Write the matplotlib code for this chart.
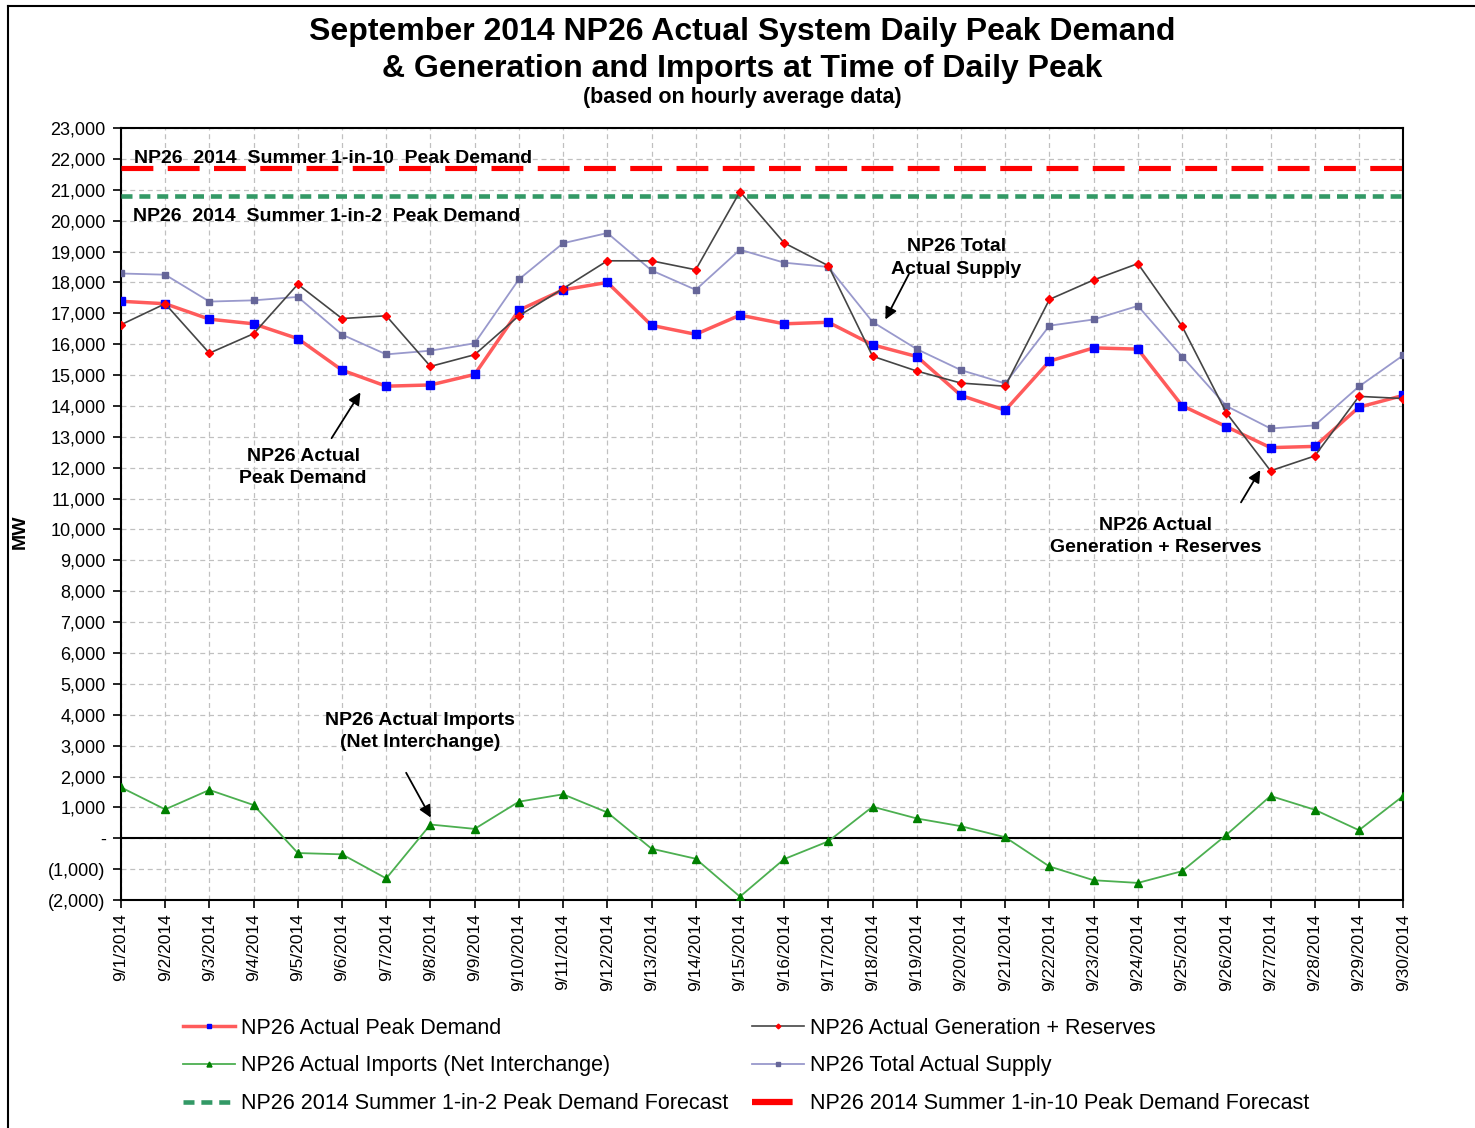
import numpy as np
import matplotlib
matplotlib.use("Agg")
import matplotlib.pyplot as plt
from matplotlib.ticker import FuncFormatter, MultipleLocator
from matplotlib.lines import Line2D

plt.rcParams['font.family'] = ['Liberation Sans', 'DejaVu Sans']

# data (MW)
dias = ["9/%d/2014" % d for d in range(1, 31)]

peak_demand = [17390, 17310, 16810, 16660, 16180, 15160, 14640, 14680, 15020, 17100,
               17760, 18000, 16610, 16320, 16940, 16660, 16710, 15980, 15600, 14340,
               13860, 15450, 15880, 15840, 14010, 13330, 12650, 12690, 13960, 14340]

gen_reserves = [16630, 17310, 15710, 16340, 17940, 16830, 16920, 15280, 15660, 16920,
                17800, 18700, 18700, 18410, 20940, 19280, 18540, 15610, 15130, 14740,
                14640, 17450, 18080, 18610, 16580, 13780, 11900, 12380, 14310, 14240]

imports = [1650, 935, 1565, 1076, -478, -520, -1300, 445, 304, 1185,
           1424, 837, -337, -663, -1890, -674, -98, 1022, 641, 391,
           33, -913, -1359, -1446, -1065, 109, 1370, 924, 261, 1370]

total_supply = [18290, 18250, 17380, 17420, 17530, 16310, 15670, 15790, 16030, 18100,
                19270, 19600, 18390, 17760, 19060, 18640, 18500, 16720, 15840, 15160,
                14730, 16600, 16800, 17240, 15600, 14000, 13270, 13370, 14630, 15640]

forecast_1in2 = 20800
forecast_1in10 = 21700

x = np.arange(len(dias))

fig = plt.figure(figsize=(14.75, 11.28), dpi=100)
ax = fig.add_axes([0.082, 0.2021, 0.8693, 0.6844])

# forecast lines
l10, = ax.plot([x[0], x[-1]], [forecast_1in10] * 2, color="#FF0000", lw=3.7,
               dashes=(6.2, 2.8), solid_capstyle="butt", zorder=3)
l2, = ax.plot([x[0], x[-1]], [forecast_1in2] * 2, color="#339966", lw=3.3,
              dashes=(2.4, 1.5), zorder=3)

ax.axhline(0, color="black", lw=1.5, zorder=2)

lpeak, = ax.plot(x, peak_demand, color="#FF5B5B", lw=2.5, marker="s", ms=5.5,
                 mfc="#0000FF", mec="#0000FF", zorder=5)
lgen, = ax.plot(x, gen_reserves, color="#454545", lw=1.2, marker="D", ms=4,
                mfc="#FF0000", mec="#FF0000", zorder=6)
limp, = ax.plot(x, imports, color="#4CAF50", lw=1.3, marker="^", ms=6,
                mfc="#008000", mec="#008000", zorder=5)
lsup, = ax.plot(x, total_supply, color="#9999CC", lw=1.3, marker="s", ms=5,
                mfc="#666699", mec="#666699", zorder=4)

ax.set_xlim(0, 29)
ax.set_ylim(-2000, 23000)
ax.yaxis.set_major_locator(MultipleLocator(1000))


def fmt(v, pos):
    if abs(v) < 1:
        return "-"
    if v < 0:
        return "({:,.0f})".format(-v)
    return "{:,.0f}".format(v)


ax.yaxis.set_major_formatter(FuncFormatter(fmt))
ax.set_xticks(x)
ax.set_xticklabels(dias, rotation=90, fontsize=12.5)
ax.tick_params(axis="y", labelsize=13, length=6, width=1.2, pad=5)
ax.tick_params(axis="x", length=6, width=1.2)
ax.grid(True, color="#C0C0C0", ls=(0, (4, 3)), lw=0.9)
ax.set_axisbelow(True)
for s in ax.spines.values():
    s.set_linewidth(1.5)

ax.set_ylabel("MW", fontsize=14, fontweight="bold")
ax.yaxis.set_label_coords(-0.072, 0.477)

# titles
fig.text(0.503, 0.972, "September 2014 NP26 Actual System Daily Peak Demand",
         ha="center", va="center", fontsize=23, fontweight="bold")
fig.text(0.503, 0.939, "& Generation and Imports at Time of Daily Peak",
         ha="center", va="center", fontsize=23, fontweight="bold")
fig.text(0.503, 0.914, "(based on hourly average data)",
         ha="center", va="center", fontsize=15.5, fontweight="bold")

# labels on chart
bold = dict(fontsize=14, fontweight="bold")
ax.text(0.3, 22000, "NP26  2014  Summer 1-in-10  Peak Demand", ha="left", va="center", **bold)
ax.text(0.27, 20150, "NP26  2014  Summer 1-in-2  Peak Demand", ha="left", va="center", **bold)
ax.text(18.9, 18790, "NP26 Total\nActual Supply", ha="center", va="center", linespacing=1.4, **bold)
ax.text(4.12, 12000, "NP26 Actual\nPeak Demand", ha="center", va="center", linespacing=1.4, **bold)
ax.text(23.4, 9760, "NP26 Actual\nGeneration + Reserves", ha="center", va="center", linespacing=1.4, **bold)
ax.text(6.76, 3470, "NP26 Actual Imports\n(Net Interchange)", ha="center", va="center", linespacing=1.4, **bold)

arw = dict(arrowstyle="-|>", color="black", lw=1.3, mutation_scale=18)
ax.annotate("", xy=(17.26, 16720), xytext=(17.85, 18350), arrowprops=arw)
ax.annotate("", xy=(5.45, 14515), xytext=(4.73, 12880), arrowprops=arw)
ax.annotate("", xy=(25.8, 12000), xytext=(25.3, 10800), arrowprops=arw)
ax.annotate("", xy=(7.04, 590), xytext=(6.42, 2200), arrowprops=arw)

# legend (1-in-10 shown as a short solid bar)
l10_leg = Line2D([], [], color="#FF0000", lw=4.5, dashes=(6.5, 20), solid_capstyle="butt")
leg = fig.legend([lpeak, limp, l2, lgen, lsup, l10_leg],
                 ["NP26 Actual Peak Demand", "NP26 Actual Imports (Net Interchange)",
                  "NP26 2014 Summer 1-in-2 Peak Demand Forecast",
                  "NP26 Actual Generation + Reserves", "NP26 Total Actual Supply",
                  "NP26 2014 Summer 1-in-10 Peak Demand Forecast"],
                 ncol=2, loc="center", bbox_to_anchor=(0.506, 0.055), frameon=False,
                 fontsize=15.5, handlelength=2.4, handletextpad=0.3,
                 columnspacing=1.1, labelspacing=0.78, markerscale=0.6)

# frame around figure
fig.add_artist(Line2D([0.0055, 0.0055], [0, 0.995], color="black", lw=1.5))
fig.add_artist(Line2D([0.0055, 1], [0.995, 0.995], color="black", lw=1.5))

fig.savefig("out.png", dpi=100)
